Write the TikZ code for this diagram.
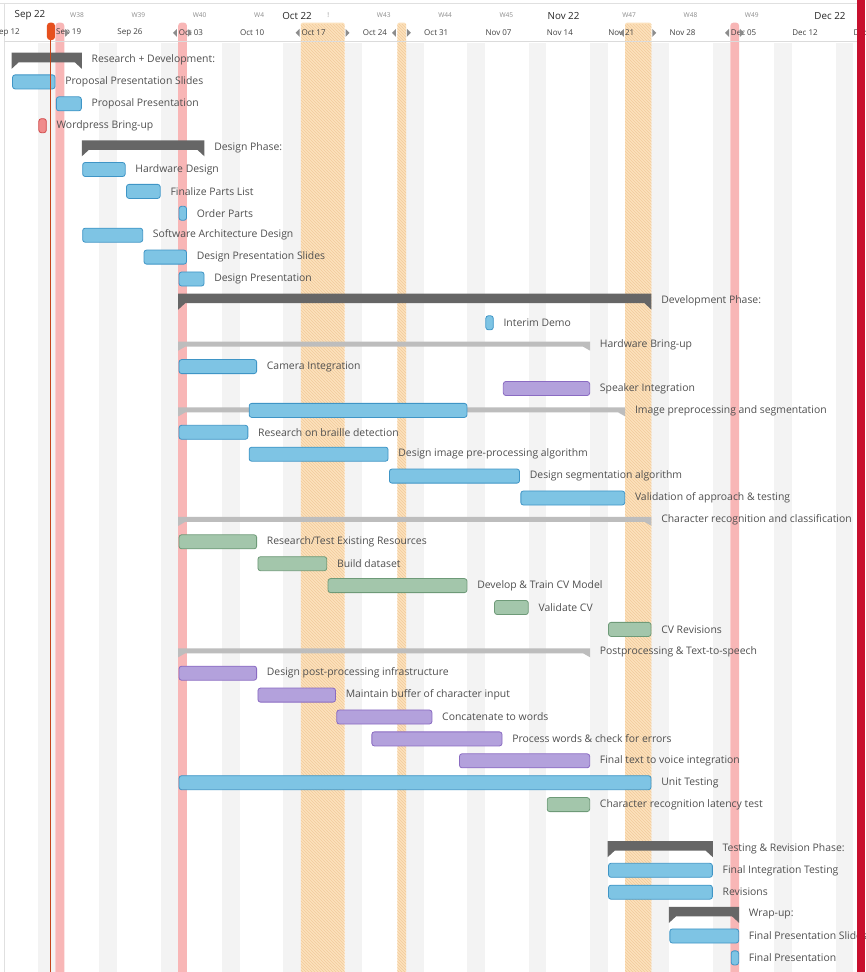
\documentclass[tikz,border=0pt]{standalone}
\usepackage{fontspec}
\setmainfont{Open Sans}
\usetikzlibrary{patterns,positioning}

\definecolor{txt}{HTML}{505050}
\definecolor{blueF}{HTML}{7EC4E4}
\definecolor{blueD}{HTML}{3F95C6}
\definecolor{purpF}{HTML}{B3A1DC}
\definecolor{purpD}{HTML}{8A6BC2}
\definecolor{grnF}{HTML}{A3C6AB}
\definecolor{grnD}{HTML}{6E9A78}
\definecolor{redF}{HTML}{F08C8C}
\definecolor{redD}{HTML}{D24B4B}
\definecolor{phaseC}{HTML}{666666}
\definecolor{groupC}{HTML}{BDBDBD}
\definecolor{wkend}{HTML}{F3F3F3}
\definecolor{hol}{HTML}{FCE1BC}
\definecolor{holL}{HTML}{F2CB9C}
\definecolor{pinkL}{HTML}{F8B6B6}
\definecolor{today}{HTML}{E6501E}
\definecolor{edge}{HTML}{C8102E}

% task bar: name, row, from day, to day, style, text
\newcommand{\gtask}[6]{%
  \draw[#5] (#3+0.1,#2-0.32) rectangle (#4-0.05,#2+0.32);
  \node[lbl] (#1) at (#4+1.1,#2) {#6};}
% dark phase bracket: name, row, from, to, text
\newcommand{\gphase}[5]{%
  \fill[phaseC] (#3,#2-0.333) -- (#4,#2-0.333) -- (#4,#2+0.40) -- (#4-0.8,#2+0.105)
    -- (#3+0.8,#2+0.105) -- (#3,#2+0.40) -- cycle;
  \node[lbl] (#1) at (#4+1.1,#2) {#5};}
% light group bracket
\newcommand{\ggroup}[5]{%
  \fill[groupC] (#3,#2-0.137) -- (#4,#2-0.137) -- (#4,#2+0.274) -- (#4-0.8,#2+0.091)
    -- (#3+0.8,#2+0.091) -- (#3,#2+0.274) -- cycle;
  \node[lbl] (#1) at (#4+1.1,#2) {#5};}

\begin{document}
\begin{tikzpicture}[x=8.764pt, y=-21.9pt,
    lbl/.style={anchor=west, inner sep=0pt, text=txt, font=\fontsize{10.4}{12}\selectfont},
    month/.style={inner sep=0pt, text=black!85, font=\fontsize{9.8}{11}\selectfont},
    week/.style={anchor=west, inner sep=0pt, text=black!45, font=\fontsize{6.6}{7}\selectfont},
    day/.style={anchor=west, inner sep=0pt, text=black!75, font=\fontsize{8}{9}\selectfont},
    tri/.style={fill=black!45},
    blue bar/.style={fill=blueF, draw=blueD, line width=0.8pt, rounded corners=2.5pt},
    purple bar/.style={fill=purpF, draw=purpD, line width=0.8pt, rounded corners=2.5pt},
    green bar/.style={fill=grnF, draw=grnD, line width=0.8pt, rounded corners=2.5pt},
    red bar/.style={fill=redF, draw=redD, line width=0.8pt, rounded corners=2.5pt}]
  \useasboundingbox (0.6675,-2.7397) rectangle (99.367,41.644);
  \fill[white] (0.6675,-2.7397) rectangle (99.367,41.644);

  % weekends
  \foreach \w in {0,...,13}
    \fill[wkend] ({7*\w+5},-0.79) rectangle ({7*\w+7},42);

  % holidays
  \foreach \s/\e in {35/40,46/47,72/75} {
    \fill[hol, rounded corners=2pt] (\s,-1.705) rectangle (\e,42);
    \fill[pattern=north west lines, pattern color=holL] (\s,-1.6) rectangle (\e,42);
  }
  % milestone days
  \foreach \s/\e in {7/8,21/22,84/85}
    \fill[pinkL, rounded corners=3pt] (\s,-1.705) rectangle (\e,42);

  % header
  \draw[black!12] (0.6675,-2.603) -- (99.367,-2.603);
  \draw[black!12] (1.12,-2.603) -- (1.12,42);
  \draw[black!14] (1.12,-0.836) -- (99.367,-0.836);

  \node[month] (mSep) at (4.09,-2.03) {Sep 22};
  \node[month] (mOct) at (34.56,-2.03) {Oct 22};
  \node[month] (mNov) at (64.97,-2.03) {Nov 22};
  \node[month] (mDec) at (95.37,-2.03) {Dec 22};

  \foreach \d/\n in {7/W38,14/W39,21/W40,28/W4,42/W43,49/W44,56/W45,70/W47,77/W48,84/W49}
    \node[week] (w\n) at (\d+1.65,-2.03) {\n};
  \node[week] (wbang) at (38.0,-2.03) {!};

  \foreach \d/\t [count=\i] in {0/Sep 12,7/Sep 19,14/Sep 26,21/Oct 03,28/Oct 10,35/Oct 17,
      42/Oct 24,49/Oct 31,56/Nov 07,63/Nov 14,70/Nov 21,77/Nov 28,84/Dec 05,91/Dec 12,98/Dec 19}
    \node[day] (day\i) at (\d+0.05,-1.256) {\t};

  \foreach \s/\e in {7/8,21/22,35/40,46/47,72/75,84/85} {
    \fill[tri] (\s-0.6,-1.24) -- (\s-0.15,-1.42) -- (\s-0.15,-1.06) -- cycle;
    \fill[tri] (\e+0.55,-1.24) -- (\e+0.1,-1.42) -- (\e+0.1,-1.06) -- cycle;
  }

  % tasks
  \gphase{rd}{0}{2}{10}{Research + Development:}
  \gtask{pps}{1}{2}{7}{blue bar}{Proposal Presentation Slides}
  \gtask{ppr}{2}{7}{10}{blue bar}{Proposal Presentation}
  \gtask{wpb}{3}{5}{6}{red bar}{Wordpress Bring-up}
  \gphase{dph}{4}{10}{24}{Design Phase:}
  \gtask{hwd}{5}{10}{15}{blue bar}{Hardware Design}
  \gtask{fpl}{6}{15}{19}{blue bar}{Finalize Parts List}
  \gtask{ord}{7}{21}{22}{blue bar}{Order Parts}
  \gtask{sad}{8}{10}{17}{blue bar}{Software Architecture Design}
  \gtask{dps}{9}{17}{22}{blue bar}{Design Presentation Slides}
  \gtask{dpr}{10}{21}{24}{blue bar}{Design Presentation}
  \gphase{dev}{11}{21}{75}{Development Phase:}
  \gtask{idm}{12}{56}{57}{blue bar}{Interim Demo}
  \ggroup{hwb}{13}{21}{68}{Hardware Bring-up}
  \gtask{cam}{14}{21}{30}{blue bar}{Camera Integration}
  \gtask{spk}{15}{58}{68}{purple bar}{Speaker Integration}
  \ggroup{ips}{16}{21}{72}{Image preprocessing and segmentation}
  \draw[blue bar] (29.1,16-0.32) rectangle (53.95,16+0.32);
  \gtask{rbd}{17}{21}{29}{blue bar}{Research on braille detection}
  \gtask{dip}{18}{29}{45}{blue bar}{Design image pre-processing algorithm}
  \gtask{dsa}{19}{45}{60}{blue bar}{Design segmentation algorithm}
  \gtask{vat}{20}{60}{72}{blue bar}{Validation of approach \& testing}
  \ggroup{crc}{21}{21}{75}{Character recognition and classification}
  \gtask{rte}{22}{21}{30}{green bar}{Research/Test Existing Resources}
  \gtask{bds}{23}{30}{38}{green bar}{Build dataset}
  \gtask{dtc}{24}{38}{54}{green bar}{Develop \& Train CV Model}
  \gtask{vcv}{25}{57}{61}{green bar}{Validate CV}
  \gtask{cvr}{26}{70}{75}{green bar}{CV Revisions}
  \ggroup{pts}{27}{21}{68}{Postprocessing \& Text-to-speech}
  \gtask{dpp}{28}{21}{30}{purple bar}{Design post-processing infrastructure}
  \gtask{mbc}{29}{30}{39}{purple bar}{Maintain buffer of character input}
  \gtask{ctw}{30}{39}{50}{purple bar}{Concatenate to words}
  \gtask{pwc}{31}{43}{58}{purple bar}{Process words \& check for errors}
  \gtask{ftv}{32}{53}{68}{purple bar}{Final text to voice integration}
  \gtask{utt}{33}{21}{75}{blue bar}{Unit Testing}
  \gtask{crl}{34}{63}{68}{green bar}{Character recognition latency test}
  \gphase{trp}{36}{70}{82}{Testing \& Revision Phase:}
  \gtask{fit}{37}{70}{82}{blue bar}{Final Integration Testing}
  \gtask{rvs}{38}{70}{82}{blue bar}{Revisions}
  \gphase{wru}{39}{77}{85}{Wrap-up:}
  \gtask{fps}{40}{77}{85}{blue bar}{Final Presentation Slides}
  \gtask{fpr}{41}{84}{85}{blue bar}{Final Presentation}

  % today marker
  \draw[today!85!black, line width=1.3pt] (6.43,-1.0) -- (6.43,42);
  \fill[today, rounded corners=3pt] (6.03,-1.705) rectangle (6.94,-0.913);

  % right edge
  \fill[edge] (98.45,-2.8) rectangle (99.4,42);
\end{tikzpicture}
\end{document}
